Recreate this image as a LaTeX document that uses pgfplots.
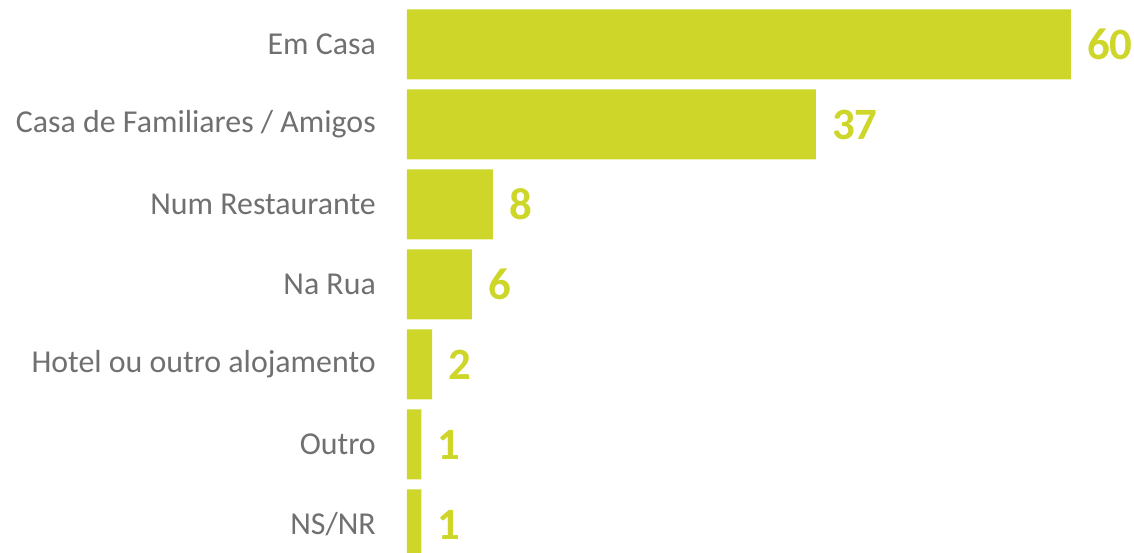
\documentclass[border=0pt]{standalone}
\usepackage{pgfplots}
\pgfplotsset{compat=1.18}
\usepackage{fontspec}
\setmainfont{Carlito}
\definecolor{barc}{RGB}{205,214,41}
\definecolor{labc}{RGB}{112,112,112}
\begin{document}
\begin{tikzpicture}
\begin{axis}[
  xbar, scale only axis,
  width=727bp, height=552.5bp,
  xmin=0, xmax=65.7, ymin=-0.35, ymax=6.556,
  axis line style={draw=none},
  tick style={draw=none},
  major tick length=0pt,
  xtick=\empty,
  ytick={0,1,2,3,4,5,6},
  yticklabels={NS/NR, Outro, Hotel ou outro alojamento, Na Rua, Num Restaurante, Casa de Familiares / Amigos, Em Casa},
  yticklabel style={font=\fontsize{32}{38}\selectfont, text=labc, inner sep=0pt, xshift=-31bp},
  bar width=0.875,
  nodes near coords,
  point meta=explicit symbolic,
  nodes near coords style={anchor=west, inner sep=0pt, xshift=16bp, font=\fontsize{45}{54}\selectfont\bfseries, text=barc},
]
\addplot[fill=barc, draw=none] table[x=x, y=y, meta=label] {
x y label
60 6 60
36.95 5 37
7.77 4 8
5.87 3 6
2.26 2 2
1.3 1 1
1.3 0 1
};
\coordinate (tr) at (rel axis cs:1,1);
\coordinate (bl) at (rel axis cs:0,0);
\end{axis}
\pgfresetboundingbox
\path[use as bounding box] ([xshift=-407bp]bl) rectangle (tr);
\end{tikzpicture}
\end{document}
